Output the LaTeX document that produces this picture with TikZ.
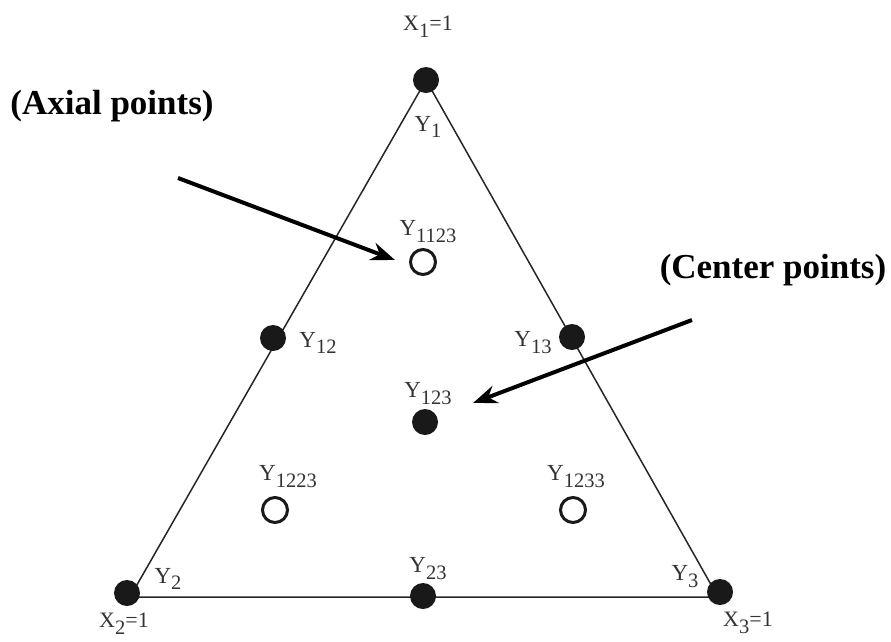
\documentclass[tikz,border=0pt]{standalone}
\usepackage{fontspec}
\setmainfont{Liberation Serif}
\usetikzlibrary{arrows.meta}
\newcommand{\lbl}[2]{#1\raisebox{-0.3em}{\fontsize{20.5}{22}\selectfont #2}}
\tikzset{
  fulldot/.style={circle,fill=black!90,inner sep=0pt,minimum size=26pt},
  opendot/.style={circle,draw=black!90,line width=3pt,inner sep=0pt,minimum size=25pt},
  edge/.style={draw=black!85,line width=1.5pt},
  lab/.style={inner sep=0pt,font=\fontsize{23}{25}\selectfont,text=black!80},
  xlab/.style={inner sep=0pt,font=\fontsize{22}{24}\selectfont,text=black!80},
  callout/.style={inner sep=0pt,font=\fontsize{35}{38}\selectfont\bfseries},
  pointer/.style={line width=4pt,-{Stealth[length=24pt,width=18pt]}}
}
\begin{document}
\begin{tikzpicture}[x=1pt,y=-1pt]
\useasboundingbox (0,0) rectangle (891,641);
% triangle
\coordinate (v1) at (426,80);
\coordinate (v2) at (130,597);
\coordinate (v3) at (718,597);
\draw[edge] (v1) -- (v2) -- (v3) -- cycle;
% points
\node[fulldot] (p1) at (426,80) {};
\node[fulldot] (p2) at (127,593) {};
\node[fulldot] (p3) at (720,592) {};
\node[fulldot] (p12) at (273,338) {};
\node[fulldot] (p13) at (572,337) {};
\node[fulldot] (p123) at (425,422) {};
\node[fulldot] (p23) at (423,596) {};
\node[opendot] (p1123) at (423,262) {};
\node[opendot] (p1223) at (275,510) {};
\node[opendot] (p1233) at (573,510) {};
% labels
\node[xlab] (x1) at (428,27) {\lbl{X}{1}=1};
\node[xlab] (x2) at (124,624) {\lbl{X}{2}=1};
\node[xlab] (x3) at (748,623) {\lbl{X}{3}=1};
\node[lab] (l1) at (428,127) {\lbl{Y}{1}};
\node[lab] (l2) at (168,579) {\lbl{Y}{2}};
\node[lab] (l3) at (685,577) {\lbl{Y}{3}};
\node[lab] (l12) at (318,343) {\lbl{Y}{12}};
\node[lab] (l13) at (533,343) {\lbl{Y}{13}};
\node[lab] (l23) at (428,569) {\lbl{Y}{23}};
\node[lab] (l123) at (428,394) {\lbl{Y}{123}};
\node[lab] (l1123) at (428,232) {\lbl{Y}{1123}};
\node[lab] (l1223) at (288,477) {\lbl{Y}{1223}};
\node[lab] (l1233) at (576,477) {\lbl{Y}{1233}};
% callouts
\node[callout] (axial) at (112,106) {(Axial points)};
\node[callout] (center) at (773,270) {(Center points)};
\coordinate (a0) at (178,178);
\coordinate (a1) at (395,260);
\coordinate (c0) at (692,320);
\coordinate (c1) at (473,403);
\draw[pointer] (a0) -- (a1);
\draw[pointer] (c0) -- (c1);
\end{tikzpicture}
\end{document}
